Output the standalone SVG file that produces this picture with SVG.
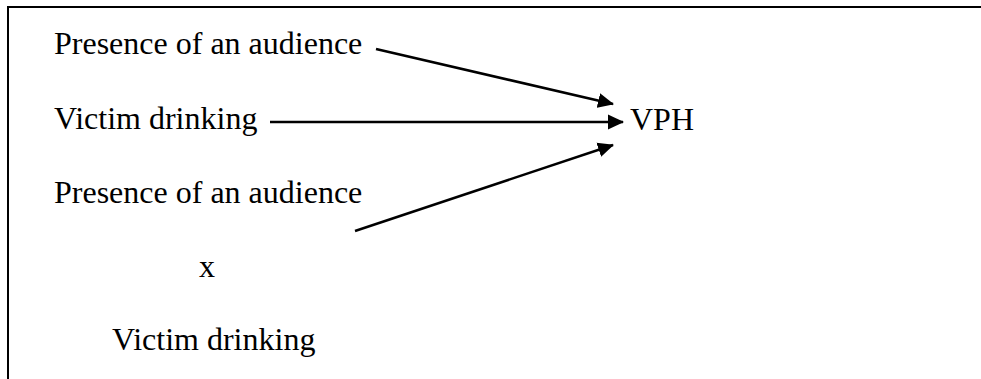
<svg xmlns="http://www.w3.org/2000/svg" width="981" height="379" viewBox="0 0 981 379">
<style>
text{font-family:"Liberation Serif","Times New Roman",serif;font-size:32px;fill:#000}
.c{stroke:#000;stroke-width:2.5;fill:none}
.frame{stroke:#000;stroke-width:2;fill:none}
</style>
<defs>
<marker id="ah" markerUnits="userSpaceOnUse" markerWidth="16" markerHeight="16" viewBox="0 0 16 16" refX="15" refY="8" orient="auto">
<path d="M0,0.5 L16,8 L0,15.5 Z" fill="#000"/>
</marker>
</defs>
<rect width="981" height="379" fill="#fff"/>
<path class="frame" d="M8,379 V7 H981"/>
<g id="n1"><text x="54" y="54">Presence of an audience</text></g>
<g id="n2"><text x="54" y="129">Victim drinking</text></g>
<g id="n3"><text x="54" y="203">Presence of an audience</text></g>
<g id="n4"><text x="199" y="277">x</text></g>
<g id="n5"><text x="112" y="350">Victim drinking</text></g>
<g id="vph"><text x="630" y="130">VPH</text></g>
<g id="connectors">
<line class="c" x1="376" y1="49" x2="613" y2="104" marker-end="url(#ah)"/>
<line class="c" x1="270" y1="122" x2="623" y2="122" marker-end="url(#ah)"/>
<line class="c" x1="355" y1="231" x2="613" y2="145" marker-end="url(#ah)"/>
</g>
</svg>
